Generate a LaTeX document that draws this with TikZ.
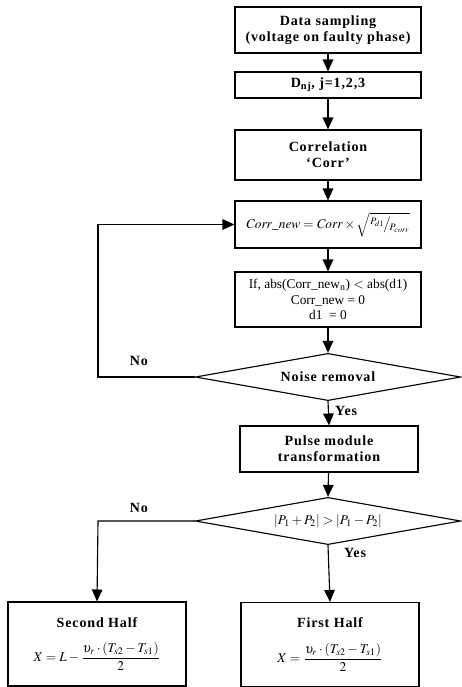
\documentclass[tikz,border=0pt]{standalone}
\usepackage{amsmath}
\usepackage{mathptmx}
\usepackage{fontspec}
\setmainfont{Liberation Serif}
\newfontfamily\spacedfont[LetterSpace=6]{Liberation Serif}
\usepackage{tikz}
\usetikzlibrary{arrows.meta,positioning,shapes.geometric,calc}

\newcommand{\boxfont}{\spacedfont\bfseries\fontsize{10}{11.5}\selectfont}
\newcommand{\plainfont}{\fontsize{9.5}{11}\selectfont}

\begin{document}
\begin{tikzpicture}[x=0.025cm, y=-0.025cm,
  flowbox/.style={draw, line width=0.8pt, minimum width=4.65cm, align=center, font=\boxfont, inner sep=2pt},
  decision/.style={draw, diamond, aspect=5.6, line width=0.8pt, minimum width=6.63cm, minimum height=1.18cm, inner sep=0pt, font=\boxfont},
  flowarrow/.style={-{Triangle[width=7.5pt,length=8.5pt]}, line width=0.8pt},
  branchlabel/.style={font=\boxfont}]
  \useasboundingbox (0,0) rectangle (462,687);

  %--- Main chain ---
  \node[flowbox, minimum height=1.15cm] (sample) at (328,30) {Data sampling\\(voltage on faulty phase)};
  \node[flowbox, minimum height=0.65cm] (dnj) at (328,85) {D\textsubscript{nj}, j=1,2,3};
  \node[flowbox, minimum height=1.25cm] (corr) at (328,155) {Correlation\\‘Corr’};
  \node[flowbox, minimum height=1.175cm, font=\plainfont] (corrnew) at (328,224.5)
    {$\mathit{Corr\_new} = \mathit{Corr}\times\sqrt{{}^{P_{d1}}\!\big/\!{}_{P_{corr}}}$};
  \node[flowbox, minimum height=1.375cm, font=\plainfont] (cond) at (328,299.5)
    {If, abs(Corr\_new\textsubscript{n}) $<$ abs(d1)\\Corr\_new = 0\\d1 \ = 0};

  % Noise removal decision
  \node[decision] (noise) at (328,377) {Noise removal};
  \coordinate (loop) at (98,377);

  \node[flowbox, minimum width=4.45cm, minimum height=1.15cm] (pulse) at (329,449) {Pulse module\\transformation};

  % Half decision
  \node[decision, font=\plainfont] (test) at (328,521) {$|P_1 + P_2| > |P_1 - P_2|$};
  \coordinate (split) at (98,521);

  % Results
  \node[flowbox, minimum width=4.45cm, minimum height=2.1cm] (second) at (97,644)
    {Second Half\\[10pt] {\fontsize{9.5}{11}\selectfont $X = L - \dfrac{\upsilon_r\cdot(T_{s2}-T_{s1})}{2}$}};
  \node[flowbox, minimum width=4.45cm, minimum height=2.1cm] (first) at (330,644.5)
    {First Half\\[10pt] {\fontsize{9.5}{11}\selectfont $X = \dfrac{\upsilon_r\cdot(T_{s2}-T_{s1})}{2}$}};

  % Arrows
  \draw[flowarrow] (sample) -- (dnj);
  \draw[flowarrow] (dnj) -- (corr);
  \draw[flowarrow] (corr) -- (corrnew);
  \draw[flowarrow] (corrnew) -- (cond);
  \draw[flowarrow] (cond) -- (noise.north);
  \draw[flowarrow] (noise.west) -- (loop) |- (corrnew.west);
  \node[branchlabel] (nolabel1) at (139,361) {No};
  \draw[flowarrow] (noise.south) -- node[branchlabel, right=1pt, pos=0.4] (yeslabel1) {Yes} (pulse.north);
  \draw[flowarrow] (pulse) -- (test.north);
  \draw[flowarrow] (test.west) -- (split) -- (second.north);
  \node[branchlabel] (nolabel2) at (139,508) {No};
  \draw[flowarrow] (test.south) -- (first.north);
  \node[branchlabel] (yeslabel2) at (355,553) {Yes};
\end{tikzpicture}
\end{document}
